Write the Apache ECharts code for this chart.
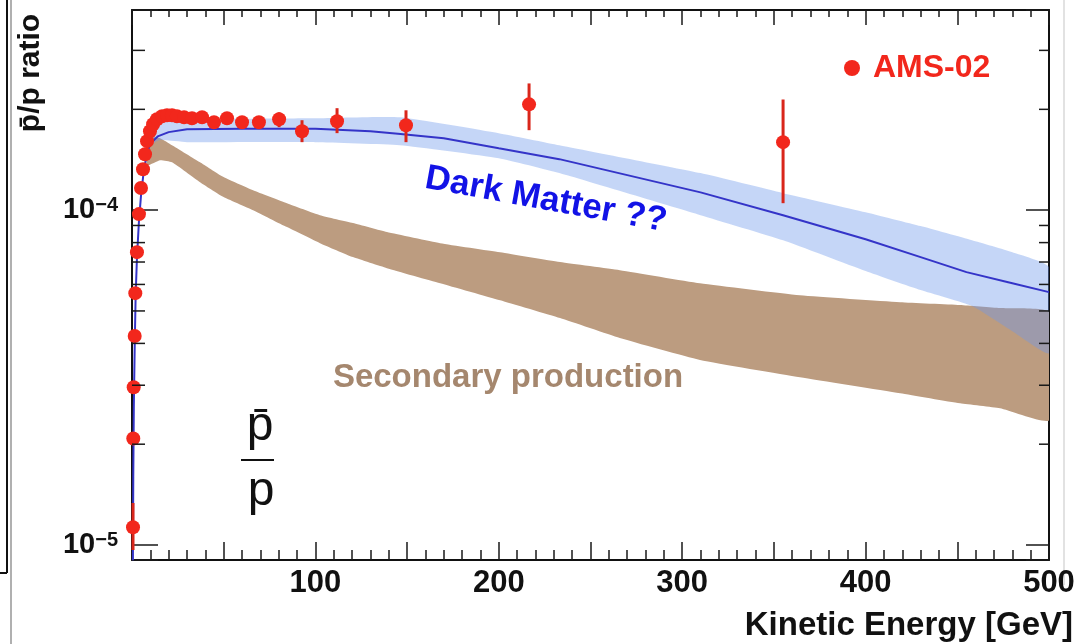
<!DOCTYPE html>
<html><head><meta charset="utf-8">
<script src="https://cdn.jsdelivr.net/npm/echarts@6/dist/echarts.min.js"></script>
<style>html,body{margin:0;padding:0;background:#fff;}#chart{width:1080px;height:644px;}</style>
</head><body><div id="chart"></div>
<script>
// ---- Data ----
const amsEnergy = [0.55, 0.7, 0.93, 1.47, 1.8, 2.7, 3.8, 4.9, 6.0, 7.1, 8.2, 9.8, 11.5, 13.6, 16.4, 19.1, 21.8, 24.5, 28.4, 32.7, 38.2, 44.7, 51.8, 60.0, 69.2, 80.2, 92.7, 111.8, 149.4, 216.5, 355.0];
const amsRatio  = [1.13e-5, 2.08e-5, 2.96e-5, 4.21e-5, 5.65e-5, 7.49e-5, 9.73e-5, 1.164e-4, 1.325e-4, 1.469e-4, 1.607e-4, 1.72e-4, 1.806e-4, 1.869e-4, 1.908e-4, 1.921e-4, 1.921e-4, 1.908e-4, 1.895e-4, 1.882e-4, 1.895e-4, 1.83e-4, 1.882e-4, 1.83e-4, 1.83e-4, 1.869e-4, 1.72e-4, 1.843e-4, 1.793e-4, 2.07e-4, 1.596e-4];
const amsErrLow  = [9.66e-6, 2.0e-5, 2.9e-5, 4.15e-5, 5.6e-5, 7.45e-5, 9.7e-5, 1.16e-4, 1.32e-4, 1.465e-4, 1.6e-4, 1.71e-4, 1.8e-4, 1.86e-4, 1.9e-4, 1.91e-4, 1.91e-4, 1.9e-4, 1.88e-4, 1.87e-4, 1.88e-4, 1.81e-4, 1.86e-4, 1.8e-4, 1.78e-4, 1.769e-4, 1.596e-4, 1.698e-4, 1.596e-4, 1.733e-4, 1.049e-4];
const amsErrHigh = [1.335e-5, 2.15e-5, 3.0e-5, 4.27e-5, 5.7e-5, 7.55e-5, 9.8e-5, 1.17e-4, 1.33e-4, 1.475e-4, 1.615e-4, 1.73e-4, 1.815e-4, 1.88e-4, 1.92e-4, 1.93e-4, 1.93e-4, 1.92e-4, 1.91e-4, 1.9e-4, 1.91e-4, 1.85e-4, 1.9e-4, 1.86e-4, 1.88e-4, 1.96e-4, 1.856e-4, 2.016e-4, 1.987e-4, 2.39e-4, 2.14e-4];

const dmEnergy = [0.5, 0.7, 1.0, 1.5, 2.0, 2.7, 3.8, 5.0, 6.5, 8.2, 10, 14, 20, 30, 60, 100, 130, 145, 170, 200, 233, 310, 355, 400, 430, 455, 480, 500];
const dmRatio  = [9.0e-6, 1.6e-5, 2.6e-5, 4.0e-5, 5.6e-5, 7.2e-5, 9.3e-5, 1.12e-4, 1.32e-4, 1.48e-4, 1.58e-4, 1.66e-4, 1.71e-4, 1.745e-4, 1.75e-4, 1.75e-4, 1.72e-4, 1.69e-4, 1.64e-4, 1.53e-4, 1.42e-4, 1.13e-4, 9.66e-5, 8.19e-5, 7.24e-5, 6.53e-5, 6.05e-5, 5.69e-5];

const dmBandEnergy = [8.2, 15, 30, 100, 146, 200, 233, 310, 355, 400, 430, 458, 480, 500];
const dmBandLow    = [1.55e-4, 1.618e-4, 1.596e-4, 1.596e-4, 1.563e-4, 1.429e-4, 1.29e-4, 9.66e-5, 8.13e-5, 6.58e-5, 5.77e-5, 5.17e-5, 4.35e-5, 3.74e-5];
const dmBandHigh   = [1.62e-4, 1.83e-4, 1.869e-4, 1.882e-4, 1.895e-4, 1.698e-4, 1.563e-4, 1.29e-4, 1.124e-4, 9.86e-5, 8.96e-5, 8.13e-5, 7.49e-5, 6.76e-5];

const secEnergy = [8.2, 15.3, 21.8, 37.1, 49.1, 66, 84.5, 102.5, 120.5, 139, 168, 200.7, 233.4, 266, 309.7, 364.2, 418.8, 451.5, 473.3, 500];
const secLow    = [1.362e-4, 1.41e-4, 1.39e-4, 1.212e-4, 1.101e-4, 1.0e-4, 8.9e-5, 7.97e-5, 7.24e-5, 6.71e-5, 6.05e-5, 5.38e-5, 4.76e-5, 4.15e-5, 3.57e-5, 3.17e-5, 2.84e-5, 2.65e-5, 2.56e-5, 2.36e-5];
const secHigh   = [1.651e-4, 1.64e-4, 1.563e-4, 1.39e-4, 1.263e-4, 1.147e-4, 1.049e-4, 9.66e-5, 9.15e-5, 8.6e-5, 7.97e-5, 7.49e-5, 7.0e-5, 6.62e-5, 6.05e-5, 5.57e-5, 5.31e-5, 5.21e-5, 5.1e-5, 4.96e-5];

const xTickLabels = [100, 200, 300, 400, 500];
const yMinorTicks = [2e-5, 3e-5, 4e-5, 5e-5, 6e-5, 7e-5, 8e-5, 9e-5, 2e-4, 3e-4];

const X_MIN = 0, X_MAX = 500, Y_MIN = 9.02e-6, Y_MAX = 3.96e-4;
const FONT = '"Liberation Sans", Arial, Helvetica, sans-serif';
const TICK = '#1a1a1a';

function bandSeries(name, xs, lo, hi, color, z) {
  return {
    type: 'custom', name: name, z: z, silent: true, clip: true,
    data: [[xs[0], lo[0]]],
    renderItem: function (params, api) {
      const pts = [];
      for (let i = 0; i < xs.length; i++) pts.push(api.coord([xs[i], hi[i]]));
      for (let i = xs.length - 1; i >= 0; i--) pts.push(api.coord([xs[i], lo[i]]));
      return { type: 'polygon', shape: { points: pts, smooth: 0.15 }, style: { fill: color } };
    }
  };
}

function xAxisDef(pos, major, minor) {
  return {
    type: 'value', position: pos, min: X_MIN, max: X_MAX, interval: 50,
    axisLine: { show: true, onZero: false, lineStyle: { color: '#111', width: 2 } },
    axisTick: { show: true, inside: true, length: major, lineStyle: { color: TICK, width: 1.5 } },
    minorTick: { show: true, splitNumber: 5, length: minor, lineStyle: { color: TICK, width: 1.5 } },
    splitLine: { show: false }, minorSplitLine: { show: false },
    axisLabel: pos === 'bottom' ? {
      show: true, margin: 8, fontSize: 31, fontWeight: 'bold', color: '#111', fontFamily: FONT,
      formatter: function (v) { return xTickLabels.indexOf(Math.round(v)) >= 0 ? String(Math.round(v)) : ''; }
    } : { show: false }
  };
}

function yAxisDef(pos, major) {
  return {
    type: 'log', logBase: 10, position: pos, min: Y_MIN, max: Y_MAX,
    axisLine: { show: true, onZero: false, lineStyle: { color: '#111', width: 2 } },
    axisTick: { show: true, inside: true, length: major, lineStyle: { color: TICK, width: 1.5 } },
    splitLine: { show: false }, minorTick: { show: false },
    axisLabel: pos === 'left' ? {
      show: true, margin: 14, fontFamily: FONT,
      formatter: function (v) {
        const e = Math.log10(v);
        if (Math.abs(e - Math.round(e)) > 1e-6) return '';
        return '{b|10}{s|\u2212' + Math.abs(Math.round(e)) + '}';
      },
      rich: {
        b: { fontSize: 29, fontWeight: 'bold', color: '#111', fontFamily: FONT },
        s: { fontSize: 20, fontWeight: 'bold', color: '#111', fontFamily: FONT, verticalAlign: 'top' }
      }
    } : { show: false }
  };
}

const chart = echarts.init(document.getElementById('chart'), null, { renderer: 'canvas' });
chart.setOption({
  animation: false,
  backgroundColor: '#ffffff',
  grid: { left: 132, right: 31, top: 10, bottom: 84, containLabel: false, outerBoundsMode: 'none' },
  legend: {
    data: [{ name: 'AMS-02', icon: 'circle' }],
    left: 839, top: 47, itemWidth: 16, itemHeight: 16,
    textStyle: { fontSize: 32, fontWeight: 'bold', color: '#f2271c', fontFamily: FONT, padding: [0, 0, 0, 8] },
    selectedMode: false
  },
  xAxis: [xAxisDef('bottom', 18, 10), xAxisDef('top', 15, 7)],
  yAxis: [yAxisDef('left', 26), yAxisDef('right', 23)],
  series: [
    bandSeries('Secondary production', secEnergy, secLow, secHigh, '#bc9c80', 1),
    bandSeries('Dark Matter band', dmBandEnergy, dmBandLow, dmBandHigh, 'rgba(110,152,235,0.4)', 2),
    {
      type: 'line', name: 'Dark Matter', z: 3, showSymbol: false, clip: true, silent: true,
      data: dmEnergy.map(function (x, i) { return [x, dmRatio[i]]; }),
      lineStyle: { color: '#3434c8', width: 2 }
    },
    {
      type: 'custom', name: 'AMS-02 errors', z: 4, silent: true,
      data: amsEnergy.map(function (x, i) { return [x, amsErrLow[i], amsErrHigh[i]]; }),
      encode: { x: 0, y: 1 },
      renderItem: function (params, api) {
        const x = api.value(0);
        const a = api.coord([x, api.value(1)]);
        const b = api.coord([x, api.value(2)]);
        return { type: 'line', shape: { x1: a[0], y1: a[1], x2: b[0], y2: b[1] }, style: { stroke: '#d9261b', lineWidth: 3 } };
      }
    },
    {
      type: 'scatter', name: 'AMS-02', z: 5, symbol: 'circle', symbolSize: 14, silent: true,
      itemStyle: { color: '#f2271c', opacity: 1 },
      data: amsEnergy.map(function (x, i) { return [x, amsRatio[i]]; })
    },
    {
      type: 'custom', name: 'y minor ticks', z: 6, silent: true, clip: false,
      data: yMinorTicks.map(function (v) { return [X_MIN, v]; }),
      encode: { x: 0, y: 1 },
      renderItem: function (params, api) {
        const v = api.value(1);
        const l = api.coord([X_MIN, v]);
        const r = api.coord([X_MAX, v]);
        return { type: 'group', children: [
          { type: 'line', shape: { x1: l[0], y1: l[1], x2: l[0] + 13, y2: l[1] }, style: { stroke: TICK, lineWidth: 1.5 } },
          { type: 'line', shape: { x1: r[0] - 10, y1: r[1], x2: r[0], y2: r[1] }, style: { stroke: TICK, lineWidth: 1.5 } }
        ] };
      }
    }
  ],
  graphic: [
    // screenshot border artifacts on the left/right
    { type: 'line', shape: { x1: 11, y1: 0, x2: 11, y2: 644 }, style: { stroke: '#b0b0b0', lineWidth: 2 } },
    { type: 'line', shape: { x1: 7, y1: 0, x2: 7, y2: 573 }, style: { stroke: '#111', lineWidth: 2 } },
    { type: 'line', shape: { x1: 0, y1: 573, x2: 7, y2: 573 }, style: { stroke: '#111', lineWidth: 2 } },
    { type: 'line', shape: { x1: 1064, y1: 0, x2: 1064, y2: 585 }, style: { stroke: '#d8d8d8', lineWidth: 1.5 } },
    // texts
    { type: 'text', x: 31, y: 73, rotation: Math.PI / 2,
      style: { text: 'p\u0304/p ratio', fontSize: 30, fontWeight: 'bold', fontFamily: FONT, fill: '#111', align: 'center', verticalAlign: 'middle' } },
    { type: 'text', x: 1073, y: 626,
      style: { text: 'Kinetic Energy [GeV]', fontSize: 33, fontWeight: 'bold', fontFamily: FONT, fill: '#111', align: 'right', verticalAlign: 'middle' } },
    { type: 'text', x: 546, y: 200, rotation: -0.18,
      style: { text: 'Dark Matter ??', fontSize: 35, fontWeight: 'bold', fontFamily: FONT, fill: '#1212e6', align: 'center', verticalAlign: 'middle' } },
    { type: 'text', x: 508, y: 378,
      style: { text: 'Secondary production', fontSize: 33, fontWeight: 'bold', fontFamily: FONT, fill: '#a5876e', align: 'center', verticalAlign: 'middle' } },
    { type: 'text', x: 260, y: 427,
      style: { text: 'p\u0304', fontSize: 48, fontFamily: FONT, fill: '#111', align: 'center', verticalAlign: 'middle' } },
    { type: 'line', shape: { x1: 241, y1: 460, x2: 274, y2: 460 }, style: { stroke: '#111', lineWidth: 2 } },
    { type: 'text', x: 261, y: 492,
      style: { text: 'p', fontSize: 48, fontFamily: FONT, fill: '#111', align: 'center', verticalAlign: 'middle' } }
  ]
});
</script>
</body></html>
